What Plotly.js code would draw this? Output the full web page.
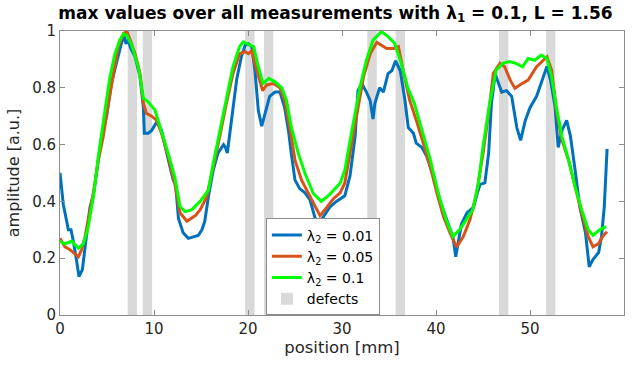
<!DOCTYPE html>
<html>
<head>
<meta charset="utf-8">
<script src="https://cdn.plot.ly/plotly-3.0.1.min.js"></script>
<style>
  html, body { margin: 0; padding: 0; background: #fff; }
  #chart { width: 633px; height: 367px; }
</style>
</head>
<body>
<div id="chart"></div>
<script>
// position [mm] and amplitude [a.u.] for each regularisation weight
const posA = [0,0.35,0.71,0.89,1.17,1.42,1.77,2.02,2.38,2.59,2.84,3.19,3.55,3.9,4.43,4.96,5.5,6.03,6.56,6.84,7.02,7.27,7.5,7.98,8.51,8.87,8.97,9.4,9.75,10.3,10.8,11.5,12.05,12.3,12.6,13.1,13.65,14.7,15.1,15.4,15.8,16.3,16.8,17.4,17.6,17.8,18.3,18.8,19.3,19.7,20.03,20.4,20.74,21.1,21.46,21.8,22.3,22.87,23.4,23.9,24.3,24.6,25.0,25.5,26.06,26.6,27.1,27.5,28.0,28.7,29.4,30.3,30.85,31.4,31.7,32.1,32.6,33.0,33.3,33.5,34.0,34.4,34.9,35.3,35.7,36.2,36.7,37.05,37.6,37.9,38.5,39.0,39.7,40.4,41.3,41.8,42.1,42.3,42.7,43.3,44.0,44.4,44.7,45.2,45.6,45.9,46.3,46.6,46.99,47.5,48.05,48.6,49.0,49.5,50.0,50.7,51.2,51.8,52.2,52.66,53.0,53.4,53.9,54.3,54.8,55.3,55.9,56.3,56.7,57.3,57.6,57.9,58.2];
const ampA = [0.5,0.39,0.33,0.30,0.30,0.26,0.19,0.135,0.16,0.22,0.29,0.38,0.42,0.51,0.63,0.70,0.82,0.89,0.96,0.98,0.955,0.97,0.94,0.91,0.84,0.73,0.64,0.64,0.65,0.68,0.65,0.55,0.475,0.46,0.34,0.29,0.27,0.28,0.30,0.33,0.42,0.51,0.57,0.60,0.59,0.57,0.70,0.83,0.91,0.95,0.955,0.945,0.86,0.72,0.665,0.71,0.77,0.785,0.785,0.73,0.65,0.57,0.475,0.445,0.43,0.405,0.345,0.32,0.345,0.38,0.40,0.42,0.49,0.63,0.79,0.815,0.785,0.755,0.69,0.745,0.80,0.785,0.85,0.86,0.895,0.86,0.755,0.66,0.64,0.605,0.59,0.56,0.49,0.405,0.32,0.275,0.205,0.24,0.32,0.36,0.38,0.43,0.46,0.465,0.57,0.745,0.85,0.82,0.785,0.79,0.77,0.66,0.615,0.685,0.73,0.77,0.815,0.875,0.825,0.735,0.59,0.65,0.685,0.63,0.51,0.38,0.29,0.17,0.195,0.22,0.275,0.38,0.585];

const posB = [0,0.53,1.06,1.6,1.95,2.3,2.66,3.0,3.55,4.08,4.61,5.14,5.67,6.2,6.74,7.1,7.45,7.98,8.51,8.87,9.2,9.75,10.3,10.8,11.5,12.2,12.77,13.5,14.4,14.9,15.6,16.3,17.0,17.7,18.4,19.1,19.7,20.03,20.4,20.74,21.3,21.55,21.99,22.7,23.4,23.9,24.5,25.0,25.7,26.4,27.1,27.66,28.4,29.1,29.8,30.3,30.85,31.6,32.3,33.0,33.7,34.2,34.75,35.5,36.0,36.5,37.2,37.9,38.65,39.4,40.1,40.8,41.5,42.2,42.9,43.6,44.3,45.0,45.6,46.1,46.8,47.3,47.9,48.4,48.9,49.8,50.7,51.4,51.8,52.3,52.8,53.4,54.1,54.8,55.5,56.2,56.7,57.3,57.8,58.2];
const ampB = [0.27,0.24,0.23,0.215,0.205,0.23,0.275,0.335,0.43,0.545,0.63,0.745,0.85,0.945,0.99,1.0,0.97,0.92,0.85,0.745,0.71,0.70,0.685,0.64,0.56,0.465,0.36,0.33,0.35,0.37,0.415,0.52,0.63,0.745,0.85,0.92,0.927,0.92,0.93,0.885,0.82,0.79,0.81,0.815,0.80,0.755,0.65,0.545,0.475,0.43,0.385,0.35,0.38,0.41,0.43,0.465,0.57,0.71,0.84,0.92,0.96,0.95,0.938,0.938,0.945,0.862,0.756,0.686,0.604,0.522,0.428,0.346,0.288,0.24,0.276,0.334,0.425,0.569,0.71,0.851,0.886,0.874,0.827,0.798,0.81,0.827,0.874,0.897,0.909,0.862,0.722,0.616,0.546,0.452,0.358,0.276,0.24,0.252,0.28,0.293];

const posC = [0,0.53,1.24,1.95,2.48,3.0,3.55,4.08,4.79,5.32,5.85,6.38,6.74,7.1,7.63,8.33,8.87,9.4,10.1,10.8,11.5,12.2,12.77,13.3,14.0,14.9,15.8,16.3,17.0,17.7,18.4,19.1,19.5,20.03,20.6,21.1,21.6,22.2,22.87,23.6,24.1,24.6,25.35,26.06,26.95,27.8,28.7,29.8,30.3,31.0,31.9,32.6,33.3,34.2,34.9,35.6,36.3,37.0,37.7,38.4,39.4,40.25,41.1,41.8,42.5,43.2,43.9,44.5,45.0,45.7,46.4,47.1,47.8,48.5,49.2,49.8,50.5,51.2,51.8,52.3,52.8,53.4,54.1,54.8,55.5,56.2,56.7,57.4,58.1];
const ampC = [0.26,0.25,0.26,0.235,0.25,0.31,0.417,0.558,0.722,0.84,0.92,0.97,0.99,0.985,0.95,0.874,0.763,0.75,0.722,0.65,0.57,0.487,0.382,0.364,0.37,0.40,0.44,0.534,0.65,0.769,0.874,0.945,0.962,0.953,0.945,0.874,0.815,0.833,0.821,0.80,0.756,0.663,0.569,0.499,0.428,0.40,0.425,0.464,0.51,0.64,0.80,0.897,0.968,0.998,0.98,0.957,0.886,0.80,0.745,0.663,0.546,0.428,0.334,0.276,0.30,0.334,0.37,0.46,0.593,0.745,0.862,0.886,0.892,0.886,0.874,0.903,0.897,0.915,0.903,0.839,0.733,0.628,0.546,0.452,0.37,0.30,0.28,0.30,0.311];

// defect locations: centre and width [mm]
const defectCentres = [7.7, 9.3, 20.2, 22.2, 33.2, 36.2, 47.2, 52.2];
const defectWidths = [1, 1, 1, 1, 1, 1, 1, 1];

const seriesNames = ['λ<sub>2</sub> = 0.01', 'λ<sub>2</sub> = 0.05', 'λ<sub>2</sub> = 0.1'];
const seriesColors = ['#0072BD', '#D95319', '#00FF00'];
const xTicks = [0, 10, 20, 30, 40, 50, 60];
const yTicks = [0, 0.2, 0.4, 0.6, 0.8, 1];

const font = 'DejaVu Sans, sans-serif';

const traces = [
  {
    type: 'bar', name: 'defects',
    x: defectCentres, width: defectWidths,
    y: defectCentres.map(() => 1),
    marker: { color: '#d9d9d9', line: { width: 0 } },
    legendrank: 1000, hoverinfo: 'skip'
  }
];
[[posA, ampA], [posB, ampB], [posC, ampC]].forEach(([x, y], i) => {
  traces.push({
    type: 'scatter', mode: 'lines', name: seriesNames[i],
    x: x, y: y,
    line: { color: seriesColors[i], width: 3 },
    legendrank: i + 1
  });
});

const axisCommon = {
  showgrid: false, zeroline: false,
  showline: true, linecolor: '#8c8c8c', linewidth: 1, mirror: 'ticks',
  ticks: 'inside', ticklen: 5, tickcolor: '#8c8c8c',
  tickfont: { family: font, size: 15, color: '#262626' }
};

const layout = {
  width: 633, height: 367,
  margin: { l: 60, r: 9, t: 31, b: 52 },
  paper_bgcolor: '#fff', plot_bgcolor: '#fff',
  showlegend: true,
  title: {
    text: '<b>max values over all measurements with λ<sub>1</sub> = 0.1, L = 1.56</b>',
    font: { family: font, size: 17, color: '#000' },
    x: 0.53, xanchor: 'center', y: 0.965, yanchor: 'middle'
  },
  xaxis: Object.assign({}, axisCommon, {
    range: [0, 60], tickvals: xTicks,
    title: { text: 'position [mm]', font: { family: font, size: 16.5, color: '#262626' }, standoff: 4 }
  }),
  yaxis: Object.assign({}, axisCommon, {
    range: [0, 1], tickvals: yTicks, ticktext: yTicks.map(String),
    title: { text: 'amplitude [a.u.]', font: { family: font, size: 16, color: '#262626' }, standoff: 8 }
  }),
  legend: {
    x: 0.365, y: 0.34, xanchor: 'left', yanchor: 'top',
    bgcolor: '#fff', bordercolor: '#8c8c8c', borderwidth: 1,
    font: { family: font, size: 14, color: '#000' },
    tracegroupgap: 0, itemwidth: 30
  },
  barmode: 'overlay'
};

Plotly.newPlot('chart', traces, layout, { staticPlot: true, displayModeBar: false });
</script>
</body>
</html>
